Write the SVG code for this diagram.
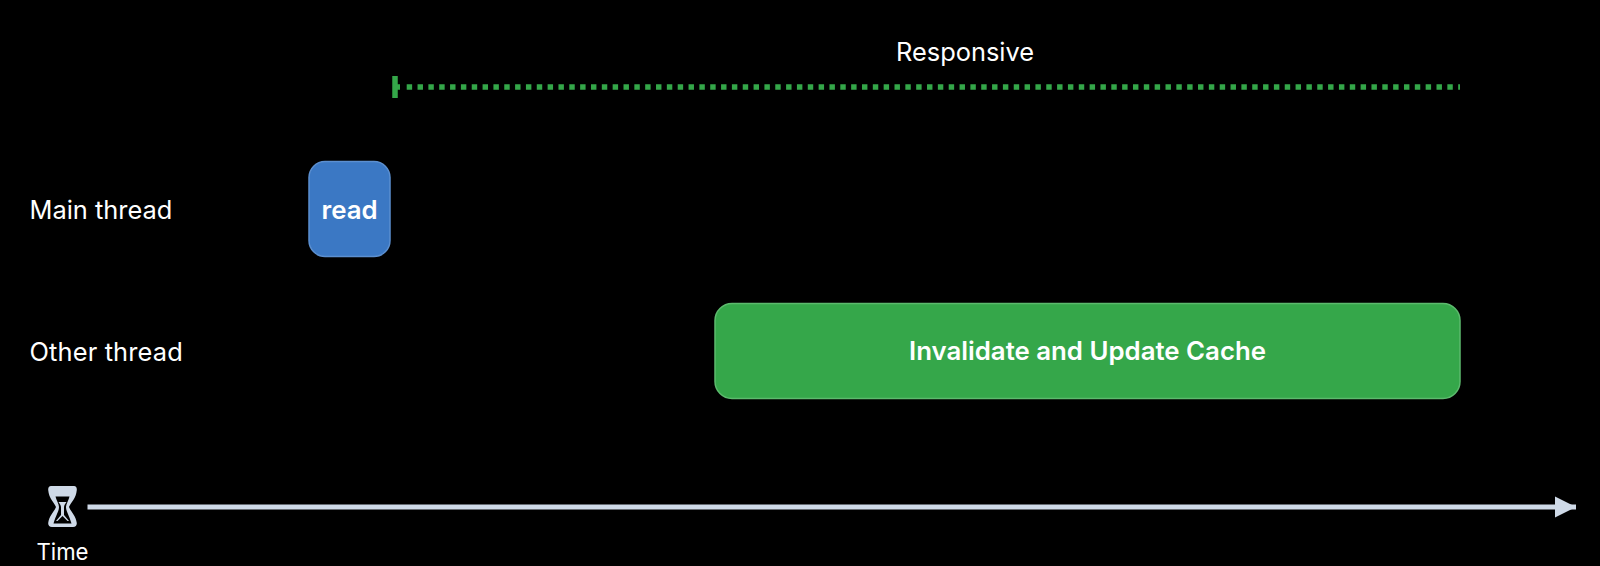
<svg xmlns="http://www.w3.org/2000/svg" width="1600" height="566" viewBox="0 0 1600 566">
<style>
text{font-family:Inter,"Liberation Sans",Arial,sans-serif;fill:#fff}
.l{font-size:25.400px}
.b{font-size:25.800px;font-weight:600;text-anchor:middle}
</style>
<defs><marker id="ah" markerUnits="userSpaceOnUse" markerWidth="22" markerHeight="22" refX="21" refY="11" orient="auto"><path d="M0 0.500L21 11L0 21.500Z" fill="#cfdae8"/></marker></defs>
<rect width="1600" height="566" fill="#000"/>
<g id="connectors">
<path d="M87.500 507H1576" stroke="#cfdae8" stroke-width="5" fill="none" marker-end="url(#ah)"/>
<path d="M393 87H400" stroke="#34a749" stroke-width="5.500" fill="none"/>
<path d="M406.700 87H1460" stroke="#34a749" stroke-width="5.500" stroke-dasharray="5.440 5.400" fill="none"/>
<path d="M395 76V98" stroke="#34a749" stroke-width="5.500" fill="none"/>
</g>
<g id="responsive"><text class="l" x="965" y="61" text-anchor="middle">Responsive</text></g>
<g id="main-thread"><text class="l" x="29.500" y="219">Main thread</text></g>
<g id="other-thread"><text class="l" x="29.500" y="361" letter-spacing="0.150">Other thread</text></g>
<g id="read"><rect x="309" y="161.500" width="81" height="95" rx="16" fill="#3b78c4" stroke="#5b8fd0" stroke-width="1.500"/><text class="b" x="349.500" y="219">read</text></g>
<g id="cache"><rect x="715" y="303.500" width="745" height="95" rx="17" fill="#35a74a" stroke="#5cba6d" stroke-width="1.500"/><text class="b" x="1087.500" y="360">Invalidate and Update Cache</text></g>
<g id="time">
<path fill="#cfdae8" d="M51 486H74Q77 486 76.800 490C76 499 71 502 69 507C71 512 76 516 76.800 523Q77 527 73 527H52Q48 527 48.200 523C49 516 54 512 56 507C54 502 49 499 48.200 490Q48 486 51 486Z"/>
<path fill="#000" d="M55.500 496.500H69.500C68.500 501 66 504 66 507C66 511 69 515 71.500 523.500H53.500C56 515 59 511 59 507C59 504 56.500 501 55.500 496.500Z"/>
<path fill="#cfdae8" d="M58.500 502H66.500C65 504 64 505.500 64 507.500V515L69 521H56L61 515V507.500C61 505.500 60 504 58.500 502Z"/>
<path fill="#000" d="M62.500 516L69.500 523H55.500Z"/>
<text x="62.500" y="560" font-size="22.200" text-anchor="middle">Time</text>
</g>
</svg>
